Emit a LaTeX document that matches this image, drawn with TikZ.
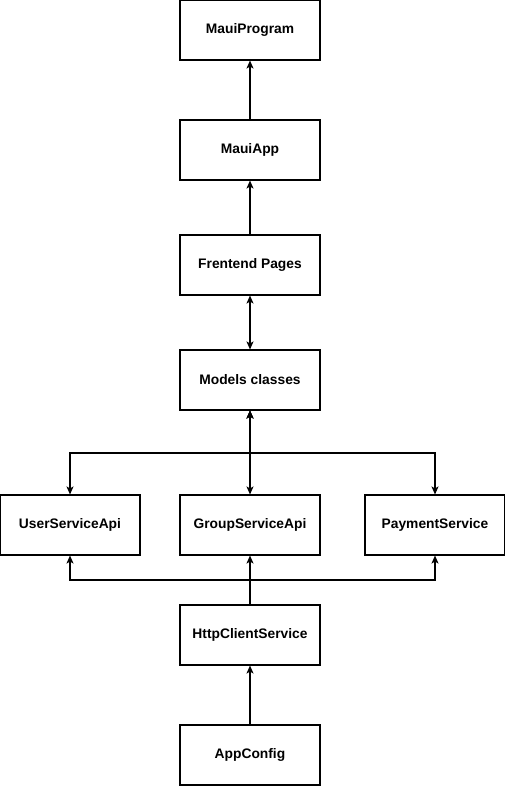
\documentclass[tikz,border=0pt]{standalone}
\usepackage{fontspec}
\setmainfont{Liberation Sans}
\usetikzlibrary{arrows.meta}
\begin{document}
\begin{tikzpicture}[x=1pt,y=-1pt,
  box/.style={draw=black,line width=1.1pt,minimum width=140pt,minimum height=60pt,inner sep=0pt,font=\fontsize{13.8}{16}\selectfont\bfseries,fill=white},
  conn/.style={line width=1.1pt,-{Stealth[length=8pt,width=7pt,inset=2pt]}},
  bconn/.style={line width=1.1pt,{Stealth[length=8pt,width=7pt,inset=2pt]}-{Stealth[length=8pt,width=7pt,inset=2pt]}}]
\useasboundingbox[fill=white] (0,0) rectangle (505,787);
\node[box] (prog) at (250,30) {MauiProgram};
\node[box] (app) at (250,150) {MauiApp};
\node[box] (pages) at (250,265) {Frentend Pages};
\node[box] (models) at (250,380) {Models classes};
\node[box] (user) at (70,525) {UserServiceApi};
\node[box] (group) at (250,525) {GroupServiceApi};
\node[box] (pay) at (435,525) {PaymentService};
\node[box] (http) at (250,635) {HttpClientService};
\node[box] (cfg) at (250,755) {AppConfig};
\draw[conn] (app) -- (prog);
\draw[conn] (pages) -- (app);
\draw[bconn] (pages) -- (models);
\draw[bconn] (models) -- (group);
\draw[bconn] (models.south) |- (160,453) -| (user.north);
\draw[bconn] (models.south) |- (340,453) -| (pay.north);
\draw[conn] (http) -- (group);
\draw[conn] (http.north) |- (160,580) -| (user.south);
\draw[conn] (http.north) |- (340,580) -| (pay.south);
\draw[conn] (cfg) -- (http);
\end{tikzpicture}
\end{document}
